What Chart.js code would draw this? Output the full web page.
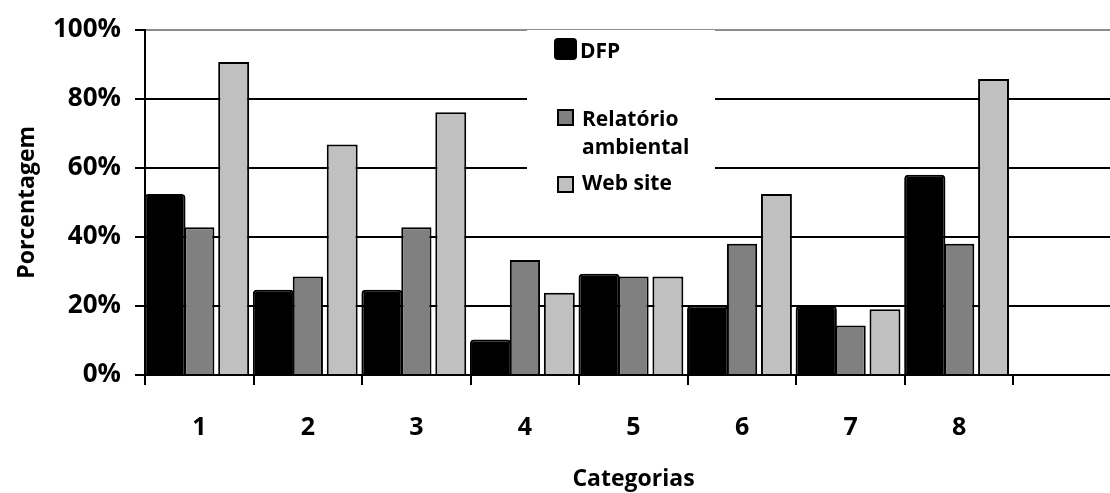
<!DOCTYPE html>
<html>
<head>
<meta charset="utf-8">
<script src="https://cdn.jsdelivr.net/npm/chart.js@4"></script>
<style>
  html, body { margin: 0; padding: 0; background: #fff; overflow: hidden; }
  #wrap { width: 1130px; height: 493px; }
</style>
</head>
<body>
<div id="wrap"><canvas id="chart"></canvas></div>
<script>
const categorias = ['1', '2', '3', '4', '5', '6', '7', '8', ''];
const dfp = [52.4, 24.7, 24.7, 10.3, 29.3, 20.1, 20.0, 58.0];
const relatorio = [42.8, 28.5, 42.8, 33.3, 28.5, 38.0, 14.3, 38.0];
const website = [90.6, 66.7, 76.1, 23.8, 28.5, 52.4, 19.0, 85.7];
const yTicks = [0, 20, 40, 60, 80, 100];

const FONT = "'Open Sans', 'DejaVu Sans', sans-serif";

// legenda desenhada dentro da área do gráfico, sobre as linhas de grade
const legendInside = {
  id: 'legendInside',
  beforeDatasetsDraw(chart) {
    const c = chart.ctx;
    c.save();
    c.fillStyle = '#fff';
    c.fillRect(527, 30, 188, 175);

    const ds = chart.data.datasets;
    c.font = 'bold 21px ' + FONT;
    c.textBaseline = 'middle';

    // DFP
    c.beginPath();
    c.roundRect(554, 38, 23, 22, 4);
    c.fillStyle = ds[0].backgroundColor;
    c.fill();
    c.fillStyle = '#000';
    c.fillText(ds[0].label, 580, 52);

    // Relatório ambiental
    c.fillStyle = ds[1].backgroundColor;
    c.fillRect(558, 110, 15, 15);
    c.lineWidth = 2;
    c.strokeStyle = '#000';
    c.strokeRect(558, 110, 15, 15);
    c.fillStyle = '#000';
    c.fillText('Relatório', 582, 120);
    c.fillText('ambiental', 582, 148);

    // Web site
    c.fillStyle = ds[2].backgroundColor;
    c.fillRect(558, 177, 15, 15);
    c.strokeRect(558, 177, 15, 15);
    c.fillStyle = '#000';
    c.fillText(ds[2].label, 582, 184);
    c.restore();
  }
};

new Chart(document.getElementById('chart'), {
  type: 'bar',
  data: {
    labels: categorias,
    datasets: [
      { label: 'DFP', data: dfp, backgroundColor: '#000000', borderColor: '#000', borderWidth: 2, borderRadius: 4, barPercentage: 1.2 },
      { label: 'Relatório ambiental', data: relatorio, backgroundColor: '#808080', borderColor: '#000', borderWidth: 2, barPercentage: 0.88 },
      { label: 'Web site', data: website, backgroundColor: '#C0C0C0', borderColor: '#000', borderWidth: 2, barPercentage: 0.9 }
    ]
  },
  options: {
    responsive: true,
    maintainAspectRatio: false,
    animation: false,
    layout: { padding: { top: 27, right: 8, left: 0, bottom: 0 } },
    datasets: { bar: { categoryPercentage: 0.95 } },
    plugins: {
      legend: { display: false },
      tooltip: { enabled: false }
    },
    scales: {
      x: {
        afterFit(scale) { scale.height = 118; },
        border: { color: '#000', width: 2 },
        grid: { display: true, drawOnChartArea: false, offset: true, color: '#000', lineWidth: 2, tickLength: 10 },
        ticks: { color: '#000', font: { family: FONT, size: 25, weight: 'bold' }, padding: 28, maxRotation: 0 },
        title: { display: true, text: 'Categorias', color: '#000', font: { family: FONT, size: 23, weight: 'bold' }, padding: { top: 10, bottom: 0 } }
      },
      y: {
        min: 0,
        max: 100,
        afterFit(scale) { scale.width = 145; },
        afterBuildTicks(scale) { scale.ticks = yTicks.map(v => ({ value: v })); },
        border: { color: '#000', width: 2 },
        grid: {
          color: ctx => (ctx.tick && ctx.tick.value === 100 ? '#8c8c8c' : '#000'),
          tickColor: '#000',
          lineWidth: 2,
          tickLength: 10
        },
        ticks: { color: '#000', font: { family: FONT, size: 26, weight: 'bold' }, padding: 14, callback: v => v + '%' },
        title: { display: true, text: 'Porcentagem', color: '#000', font: { family: FONT, size: 23, weight: 'bold' }, padding: { top: 14, bottom: 0 } }
      }
    }
  },
  plugins: [legendInside]
});
</script>
</body>
</html>
